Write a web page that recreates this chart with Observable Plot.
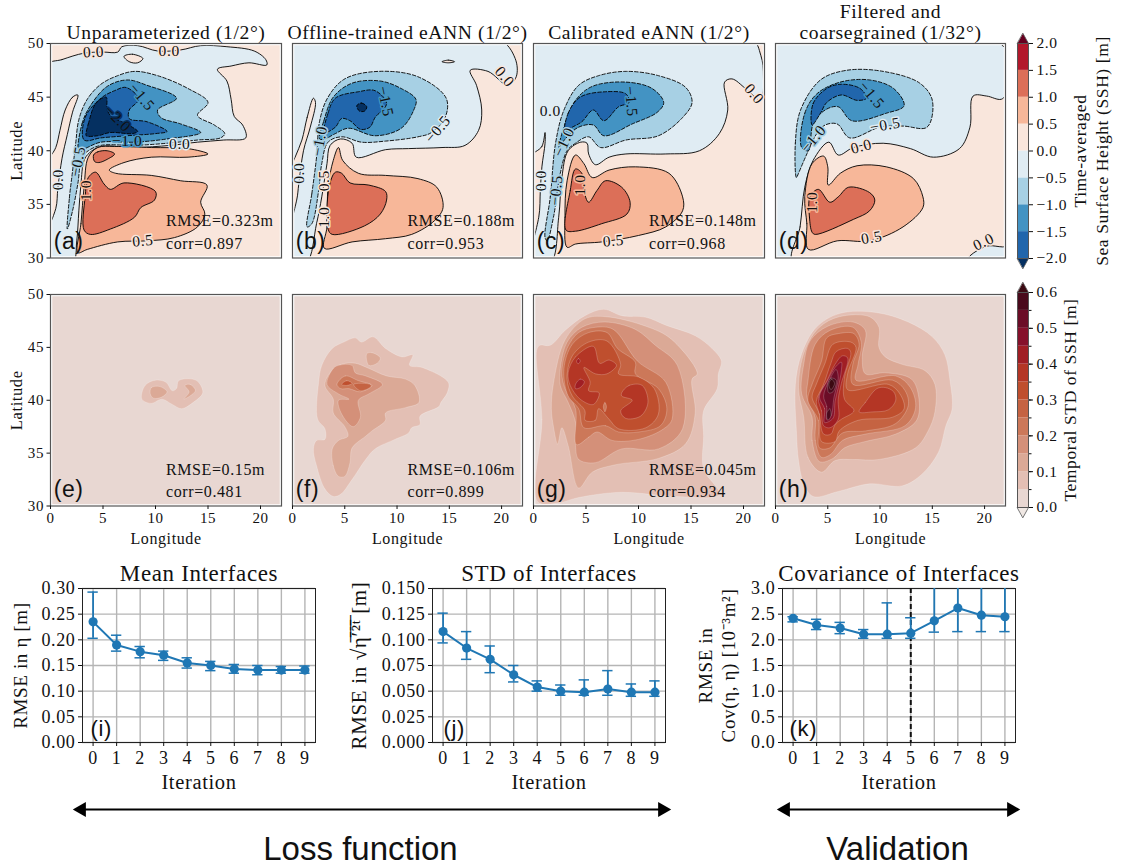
<!DOCTYPE html>
<html><head><meta charset="utf-8">
<script src="https://cdn.jsdelivr.net/npm/d3@7"></script>
<script src="https://cdn.jsdelivr.net/npm/@observablehq/plot@0.6"></script>
<style>html,body{margin:0;padding:0;background:#fff}#root{position:relative;width:1122px;height:867px;overflow:hidden}</style>
</head><body><div id="root"></div>
<script>
const SERIF = "'Liberation Serif', serif", SANS = "'Liberation Sans', sans-serif";
const BLUE = "#1f77b4";

// ---- colour levels
const sshBounds = [-2,-1.5,-1,-0.5,0,0.5,1,1.5,2];
const sshColors = ["#053061","#2166ac","#4393c3","#a7d0e4","#e0ecf3","#f9e6dc","#f7b799","#dc6f58","#b2182b","#67001f"];
const stdBounds = [0,.05,.1,.15,.2,.25,.3,.35,.4,.45,.5,.55,.6];
const stdColors = ["#f0e8e4","#e8d7d2","#e3bfb4","#dba996","#d49079","#cc7859","#c56342","#bf4f2e","#b43625","#a01e24","#86112b","#6b0d27","#4a0a1c","#3c0912"];

// ---- Panel (a) contours [lon, lat]
const a0 = [[-.5,47.9],[1.1,48.5],[3.2,49.1],[5,49.2],[6.4,49.2],[6.8,49.7],[8.3,49.8],[10.2,49.3],[12.4,49.4],[14.3,49.8],[16.8,49.7],[19.4,49.3],[20.5,48.5],[20.6,48],[18.9,48.2],[17.2,47.9],[15.9,47.6],[16.8,46.5],[17.2,44.8],[17.5,43.2],[18.3,42.4],[18.6,41.2],[16.5,41],[14,40.8],[11.4,40.5],[8,40.3],[4.8,40.4],[3.7,39.8],[3.2,39.1],[2.9,36.9],[2.7,34.4],[2.5,31.6],[2.1,29.5],[-.5,29.5]];
const aSliver = [[2.6,45.2],[2.1,45],[1.4,43.8],[.9,41.9],[.5,40.3],[-.5,38.5],[-.5,32.5],[.5,34.6],[.7,36.5],[1.1,39.3],[1.6,41.5],[2.1,43.6]];
const aHole = [[7,48.8],[7.8,49],[8.8,48.6],[8.3,48.2],[7.5,48.3]];
const aM05 = [[1.6,32.7],[1.8,35.6],[2.1,38.1],[2.4,40.7],[2.7,42.9],[3.5,44.8],[4.8,46.2],[6.4,47],[8,47.4],[10.2,47],[13.1,45.8],[15,44.5],[14,43.3],[15.6,42.4],[16.6,41.6],[16.2,41.2],[14,41],[11.1,40.7],[8,40.5],[4.8,40.5],[3.6,40],[3,39.4],[2.6,36.9],[2.1,34.4]];
const aM10 = [[2.7,39.9],[3,42.5],[3.8,44.2],[5.4,46],[7.3,46.6],[9.2,46.1],[12,44.9],[10.2,43.8],[10.5,43.1],[12.4,42.5],[14.3,41.7],[11.1,41.1],[8,40.8],[4.8,40.8],[3.5,40.3]];
const aM15 = [[3.2,41],[3.3,43.1],[4.8,44.9],[6.1,45.6],[7.2,45.9],[8.4,44.8],[7.5,43.8],[7.5,43],[9.2,42.7],[11.1,41.8],[10,41.6],[7.3,41.4],[4.8,41.2]];
const aM20 = [[3.4,41.7],[3.6,42.5],[4.3,44.4],[5.3,45],[5.4,43.8],[5.9,43.1],[6.8,42.7],[8.3,41.8],[7.8,41.6],[5.7,41.7],[4.5,41.4],[3.4,41.4]];
const aP05 = [[2.6,30.5],[2.9,33.2],[3.2,36.6],[3.6,39.4],[4.5,40.3],[6.1,40.4],[9.6,40.3],[13.1,40.2],[15,39.7],[13.1,39.4],[9.6,39.4],[7,38.9],[5.6,38.2],[6.2,37.9],[9.6,37.7],[12.4,37.2],[14.9,36.8],[14.3,35.2],[14.7,34.1],[14,32.9],[11.8,31.9],[9.2,31.6],[6.4,31.5],[3.5,30.8]];
const aP10a = [[4.1,39.6],[4.5,39.9],[5.4,40],[6.1,39.7],[5.4,39.2],[4.6,38.9],[4.2,39]];
const aP10b = [[3.2,32.6],[3.3,35.7],[3.6,37.5],[4.3,38],[5.1,36.9],[5.7,36.4],[7,37],[10,36.2],[9.9,35.4],[8.6,34.7],[8,33.8],[5.7,32.7],[3.8,32.2]];
const aLabels = [[4.1,49.2,"0.0",-3,.25],[11.3,49.3,"0.0",0,.25],[8.7,45,"−1.5",50,-1.25],[6.4,43,"−2.0",45,-2.25],[7.3,40.9,"−1.0",0,-1.25],[12.3,40.6,"0.0",0,-.25],[2.6,39,"−0.5",-80,-.75],[.7,37.3,"0.0",-90,-.25],[3.4,36.3,"1.0",-90,.75],[8.8,31.6,"0.5",-5,.25]];

// ---- Panel (b)
const b0 = [[-.5,50.5],[19.6,50.5],[21.3,48.6],[21.4,46.9],[20.6,46.1],[18.7,47.4],[17,47.5],[17.6,46.1],[18.1,43.8],[17.8,41.9],[16.5,40.5],[14.3,40.3],[11.1,40.2],[8.9,40.1],[6.1,39.4],[5.7,40.7],[4.6,41.1],[3.6,40.5],[3.3,38.8],[2.8,35.7],[2.3,33.2],[1.3,29.5],[-.5,29.5]];
const bSliver = [[2,44.9],[1.4,43.1],[.9,41],[.25,39.4],[-.5,37.5],[-.5,32.5],[.4,35.4],[.6,36.9],[1.05,40],[1.7,42.2],[2.2,44.5]];
const bSpeck = [[14.3,48.3],[14.9,48.45],[15.5,48.3],[14.9,48.2]];
const bM05 = [[1.4,32.9],[1.85,36],[2.3,39.4],[2.6,42.8],[3.4,45],[5,46.7],[8.2,47.4],[12,46.9],[14.7,44.9],[14.6,43.1],[13.3,41.7],[12,41.3],[8.9,40.9],[6.6,40.8],[4.7,41.3],[3.4,40.8],[2.8,38.8],[2.5,36.3],[1.85,33.2]];
const bM10 = [[2.6,41.1],[3,42.8],[3.9,45],[5.7,46.3],[8.4,46.5],[10.4,45.8],[11.8,44.8],[11.6,43.8],[10.4,42.1],[7.9,41.4],[5.35,42.1],[4.1,41.6],[3.1,41.1]];
const bM15 = [[3.05,41.7],[3.4,43.5],[4.1,44.9],[6.3,45.5],[7.9,45.6],[9,44.4],[7.9,43.1],[7.4,42.2],[6.5,42],[5.5,42.8],[4.7,43],[4.1,42.2]];
const bM20 = [[6.15,44.2],[6.6,44.45],[7.1,44.1],[6.9,43.7],[6.4,43.7]];
const bP05 = [[3.05,30.9],[3.3,32.9],[3.4,36.6],[3.9,39.1],[4.4,40.3],[4.8,39.1],[6.3,37.9],[8.9,37.7],[12,37.4],[13.8,36.6],[14.4,34.7],[13.6,33.5],[11.4,32.2],[8.9,31.8],[5.7,31.5]];
const bP10 = [[3.4,32.7],[3.5,36.6],[4.1,38],[4.7,37.9],[5.5,37],[7.3,36.8],[8.9,36.2],[9,35.4],[8.4,34.1],[6.9,33],[3.8,32.2]];
const bLabels = [[20.3,46.9,"0.0",50,.25],[8.9,44.6,"−1.5",78,-1.25],[13.9,42,"−0.5",-50,-.25],[2.6,40.9,"−1.0",-80,-.75],[.65,37.9,"0.0",-90,-.25],[3.05,37.2,"0.5",-90,.25],[3.05,33.8,"1.0",-90,.25]];

// ---- Panel (c)
const c0 = [[-.5,50.5],[20.7,50.5],[21.65,48.9],[21.9,46.9],[21.65,44.7],[20.2,45.8],[18.9,46.7],[18.2,46.4],[18.5,43.8],[17.7,41.6],[15.8,40],[12.6,39.7],[8.8,39.7],[7.2,39.4],[5.9,38.7],[5.25,39.7],[5.1,40.7],[4.5,40.8],[3.3,40],[2.7,37.5],[2.4,33.8],[1.6,29.5],[-.5,29.5]];
const cSliver = [[1.1,41.7],[.8,40.4],[-.5,39.2],[-.5,30.5],[.5,33.8],[.65,36.3],[.8,38.5],[1.1,40.7]];
const cM05 = [[1.1,31.9],[1.6,35.7],[2.1,40.7],[2.9,43.8],[4.3,46.1],[6.2,47],[8.8,47.4],[11.9,47],[14.5,45.9],[15.1,44.5],[14.2,43.1],[11.9,41.4],[8.8,41],[6.4,40.3],[5.25,41.3],[4,40.7],[3.2,40],[2.55,37.9],[1.9,33.8],[1.3,31.6]];
const cM10 = [[2.4,40.3],[3,42.5],[4,44.7],[5.6,46],[8.8,46.4],[11.3,45.8],[12.4,44.5],[11.8,43.6],[9.4,42.5],[6.7,41.4],[5.7,42.4],[4.3,42.2],[3.3,41.4],[2.7,40.7]];
const cM15 = [[3,41.8],[3.3,43.5],[4.45,45],[6.85,45.5],[8.8,45.3],[9.1,44.5],[8.1,44.1],[6.7,42.8],[5.7,43.8],[4.6,42.7],[3.7,42.2]];
const cP05 = [[3.2,31],[3,33.8],[3.2,37.2],[4,39.6],[4.8,38.8],[5.6,37.5],[7.2,38.2],[9.7,38.5],[12.9,37.9],[14.2,35.7],[14.2,34.4],[12.6,32.9],[10,32.1],[6.5,31.5],[4,31.3]];
const cP10 = [[3.1,32.6],[3.5,36.3],[4,38.3],[4.6,37.9],[4.8,36.3],[5.25,35.2],[6.05,36.3],[6.85,37.2],[8.4,36.6],[9.2,35.2],[8.9,34.1],[6.5,33.2],[4,32.5]];
const cLabels = [[1.6,43.7,"0.0",0,-.25],[21,45.3,"0.0",50,.25],[9.3,44.6,"−1.5",85,-1.25],[2.9,40.8,"−1.0",-65,-.75],[2.15,36.3,"−0.5",-85,-.75],[.7,37.2,"0.0",-90,-.25],[4.45,36.8,"1.0",-90,.75],[7.6,31.6,"0.5",-5,.25]];

// ---- Panel (d)
const dPink = [[1.7,29.5],[2.35,32.9],[2.8,36.6],[3.6,39.1],[5.1,40.8],[6,39.6],[7.45,40.3],[10.3,40.7],[12.9,40.2],[15.1,39.4],[17.6,40.2],[18.6,42.2],[18.9,45.1],[20.2,45.1],[21.6,44.8],[22.5,45.6],[22.5,31.3],[20.2,31.1],[18.6,30.2],[18.1,29.5]];
const dCorner = [[21.6,50.5],[21.7,49.8],[22.5,49.6],[22.5,50.5]];
const dM05 = [[2,37.5],[1.9,40.7],[2.4,43.8],[4.3,46.6],[6.8,47.5],[10.3,47.4],[13.8,46.3],[15,44.7],[14.5,42.2],[12.2,42.3],[10,42.2],[7.1,41.2],[5.9,42.5],[4.75,42.4],[3.95,41.6],[3,39.7],[2.2,37.9]];
const dM10 = [[2.5,40.3],[2.8,43.5],[3.95,45.3],[6.2,46.4],[9,46.6],[11.3,45.8],[12.3,44.2],[10.6,43.5],[7.3,42.8],[6,44.1],[4.75,43.8],[3.6,42.5],[3.15,40]];
const dM15 = [[3.5,42.4],[3.6,44.4],[4.9,45.8],[6.3,46.2],[8.1,45.8],[8.7,44.9],[7.8,44.7],[6.3,45.2],[4.9,44.5],[4.3,43.5]];
const dP05 = [[3.15,30.8],[3,33.2],[2.8,35.7],[3.5,38.8],[4.6,39.5],[5,38.5],[5.05,36.8],[6.2,37.9],[7.8,38.6],[10.6,38.5],[13.2,37.4],[14.1,35.7],[14.1,34.7],[12.2,32.9],[9,31.6],[5.9,31.6]];
const dP10 = [[3.5,32.4],[3.25,33.8],[3.3,35.7],[4.1,36.4],[5.2,35.2],[6,35.7],[7,36.6],[9,36.1],[9.5,35.4],[9,34.4],[7.45,33.6],[3.8,32.2]];
const dLabels = [[9.2,45.2,"−1.5",50,-1.25],[3.6,41.1,"−1.0",-50,-.75],[10.5,42.4,"−0.5",-10,-.25],[8.2,40.4,"0.0",-15,.25],[3.5,35.2,"1.0",-90,.75],[9.2,31.9,"0.5",-10,.25],[19.9,31.5,"0.0",-25,.25]];

// ---- Panel (e)
const e1 = [[8.7,40.1],[9,41.4],[10,41.9],[11,41.7],[11.6,40.9],[12,41.1],[12.2,41.85],[13.5,42],[14.1,41.7],[14.5,40.7],[13.6,39.8],[12.5,39.2],[11.6,39.6],[10.6,40.1],[9.6,39.7]];
const e2a = [[9.5,40.6],[9.6,41.2],[10.4,41.3],[11.1,40.8],[10.6,40.3],[9.8,40.2]];
const e2b = [[12.8,41.4],[13.3,41.5],[13.8,40.9],[12.7,40.1],[13.2,40.8]];

// ---- Panel (f)
const f1 = [[3.9,30.9],[3.1,31.6],[2.3,33.8],[2,35.4],[2.3,36.2],[3.1,36.3],[3.1,37.3],[2.4,38.2],[2.5,41.7],[2.8,43.3],[3.8,44.9],[4.9,45.5],[6,45.9],[6.6,45.5],[7.7,46],[8.9,44.9],[10.5,44.1],[11.5,44.3],[11.2,43.3],[12.4,43.1],[14.9,41.7],[14.8,40.7],[14.2,39.8],[14,39.4],[12.2,38.5],[12.2,37.7],[11.4,37.4],[11.1,36.9],[9.8,36.3],[7.9,35.4],[7,34.4],[5.7,32.5],[4.6,31.1]];
const f2 = [[4.4,32.8],[3.9,33.8],[3.8,35.4],[4.4,36.2],[5.3,36.6],[5,37.5],[3.9,38.8],[3.9,40.1],[3.1,41.4],[3.6,42.6],[4.7,43.4],[6,43.5],[7.1,43.1],[9,42.3],[10.8,42],[11.7,41.4],[12.1,39.8],[10.8,39.3],[8.9,38.8],[8.9,38.1],[7.6,37.1],[7,36.6],[5.7,35.5],[5.5,34.1],[5,32.8]];
const f2b = [[7.1,44.4],[7.6,44.5],[8.4,44],[8.1,43.5],[7.3,43.3]];
const f3 = [[3.3,41.5],[3.9,43],[4.4,43.3],[5.7,43.3],[6,42.6],[7,42.3],[8.6,41.5],[7.3,40.6],[6.3,40],[6.5,38.4],[5.8,37.5],[4.7,38.7],[4.4,40],[5.4,40.1],[4.4,40.6]];
const f4 = [[4.25,41.5],[5.05,42.3],[6.3,41.85],[7.6,41.4],[6.5,40.8],[5.4,41.1],[4.6,41.1]];
const f5 = [[5.85,41.5],[7.45,41.5],[7.5,41.3],[6.5,40.9]];
const f6 = [[4.7,41.5],[5.2,41.85],[5.7,41.6],[5.2,41.4]];

// ---- Panel (g)
const g1 = [[.4,30.4],[.8,38.2],[.3,44.7],[.6,45.2],[1.6,45.2],[3,46.6],[4.9,48],[6.7,48.6],[8.4,48],[10.7,47.85],[12.6,47.1],[15.4,46.1],[17,44.9],[17.9,43.7],[17.6,42.5],[17.5,41.1],[16.2,39],[16.2,36.6],[16.2,33.5],[17.7,31.1],[13.5,30.9],[8.4,31.3],[4.3,30.8],[2.4,30.3]];
const g2 = [[1.9,37.5],[2.3,35.8],[2.7,37.4],[3.3,35.7],[4.3,31.7],[5.6,33.2],[7.8,33.9],[11.9,34.5],[14.5,35.9],[15.4,38.8],[15.1,42],[15.6,42.5],[13.1,45.8],[10.7,47],[6.9,47.9],[4.9,47.7],[3,45.7],[1.9,41.6],[1.7,39.2]];
const g3 = [[4,35.7],[4.3,34.4],[5.9,34.1],[8.4,35.4],[11.9,35.4],[14.2,37.3],[13.7,43.3],[11.6,45.2],[9.7,46.7],[6.8,47.4],[4.6,46.9],[3.2,45.5],[2.55,43],[2.55,41.4],[3.3,39.8],[4,37.9]];
const g4 = [[4.1,35.8],[5.25,36.5],[6.05,37],[7.5,36.2],[10,36.3],[12.4,37.3],[13.2,38.2],[12.6,41.7],[9.9,43.7],[7.6,46.7],[5.9,46.9],[4.3,46.4],[3.2,44.9],[2.7,42.6],[3,41.1],[4,39.2]];
const g5 = [[4.8,37.4],[6.85,37.6],[8.1,37],[10,37],[12.1,37.6],[12.7,39.2],[11.9,41.1],[9.7,42.5],[9.7,43.6],[8,44.9],[7,46.4],[5.25,46.4],[3.7,45.3],[2.9,43],[3.3,40.4],[4.3,39.2]];
const g6 = [[4.9,38.1],[5.9,38.1],[6.2,39.2],[7.2,38.2],[8.1,37.3],[10.7,37.4],[11.9,38.7],[11.5,41.1],[10,42.2],[8.1,42.5],[8.3,43.4],[7,45.6],[5.25,45.5],[3.7,44.2],[3.2,42],[3.7,40.4],[4.9,39]];
const g7a = [[3.3,42.6],[4,44.1],[5.7,45.1],[6.3,43.5],[7.2,43.8],[7.9,43.3],[7,42.5],[5.9,42.5],[4.8,43.1],[5.4,41.7],[5.25,40.9],[6.25,40.7],[5.7,39.6],[4.45,40.1],[3.5,41.4]];
const g7b = [[8.4,40.7],[9.1,41.4],[10.35,41.4],[10.9,39.8],[10.2,38.5],[8.75,38.3],[8.3,39],[9.4,40],[8.4,40.4]];
const g8a = [[4,41.5],[4.45,42],[4.85,41.75],[4.45,41.2],[4,41.1]];
const g8b = [[4.1,43.7],[4.3,43.95],[4.45,43.7],[4.25,43.45]];
const g6hole = [[6.65,39.4],[6.8,39.8],[6.95,39.4],[6.8,38.9]];

// ---- Panel (h)
const h1 = [[3.6,30.9],[2.7,32.1],[2.2,34.3],[2,37.1],[1.9,41.5],[2.5,44.4],[3.9,46.9],[6.1,48.2],[9.6,48.3],[12.7,47.4],[15,46],[16.2,44.3],[16.7,41.8],[16.9,39.2],[16.3,37.6],[15.6,35.1],[14,33],[12.1,31.9],[9,32.1],[6.1,31.4]];
const h2 = [[4.4,33.2],[3.1,34.6],[2.7,38.4],[2.2,41.2],[2.8,44.7],[4.2,46.9],[6.1,47.9],[9,47.9],[9.9,46.9],[9.9,45],[10.5,44.1],[12.1,43.4],[14.3,42.8],[15.25,41.5],[15.25,38.9],[14.6,37.1],[13.4,35.5],[9.9,34.4],[7.4,34.4],[5.7,34.3]];
const h3 = [[4.2,34.2],[3.5,36.2],[3.5,38.4],[2.5,40.6],[2.7,43.4],[3.3,45.6],[5,47],[7.4,47.4],[8.6,46.6],[8.3,44.1],[8.6,42.5],[10.5,42.6],[13,42],[13.7,40.3],[13.5,38.1],[11.5,36.8],[8.6,36.1],[6.6,35.5],[5.5,34.5]];
const h4 = [[4.4,34.6],[3.8,36.2],[3.8,38.4],[3,40.3],[3.1,41.8],[3.8,45.3],[5.2,46.6],[7.4,46.9],[8.2,45.5],[7.9,43.4],[7.7,41.9],[11.5,42.3],[12.9,41.2],[13.4,39.3],[12.4,37.6],[8.6,36.8],[6.4,36.2],[5.3,34.9]];
const h5 = [[4.2,35.5],[4.1,38.1],[3.1,40],[3.5,41.5],[4.4,43.7],[4.9,45.9],[6,46.3],[7.5,46.3],[8,45.3],[7.4,43.4],[7.4,41.5],[11.2,41.9],[12.4,40.9],[12.7,39.5],[11.5,37.8],[8.6,37.1],[6.4,36.9],[5.2,35.5]];
const h6 = [[4.4,36.1],[4.2,38.7],[3.5,40.3],[3.9,41.5],[4.7,43.4],[5.5,45.3],[7.2,45.5],[7.7,45],[6.9,42.5],[6.9,41],[10.8,41.5],[11.9,40.6],[12.3,39.2],[11.2,38.4],[7.9,38.1],[6.1,37.1],[5.7,36.1]];
const h7a = [[4.6,36.8],[4.2,38.7],[3.9,39.9],[4.6,41.5],[5.3,43.5],[5.8,44.6],[6.9,44.9],[7.2,44.5],[6.6,42.2],[6.6,40.1],[7.5,39],[6.3,38.2],[5.7,37.7],[5.3,36.8]];
const h7b = [[8,38.9],[8.6,39.8],[9.7,41.1],[10.5,41.2],[11.3,40.8],[11.5,40],[10.8,39.1],[9.3,38.9]];
const h8 = [[4.6,37.6],[4.4,39],[4.1,40.2],[4.9,41.8],[5.7,43.4],[6.4,44.2],[6.9,44],[6.3,41.6],[6,40.1],[6,38.2],[5.2,37.4]];
const h9 = [[4.7,37.9],[4.7,39.2],[4.2,40.3],[5,41.9],[5.7,43.1],[6.3,43.6],[6.3,42.8],[6,41.2],[5.7,39.9],[5.5,38.3]];
const h10 = [[4.9,38.2],[4.9,39.4],[4.6,40.4],[5.2,42],[5.8,42.9],[6,42.1],[5.6,40.3],[5.3,38.5]];
const h11a = [[5,41.5],[5.3,42.1],[5.8,41.9],[5.5,40.8],[5.1,40.7]];
const h11b = [[4.9,38.8],[5.2,39.2],[5.3,38.5],[5,38.1]];
const h12 = [[5.1,41.5],[5.35,42],[5.65,41.6],[5.3,41]];

// ---- error-bar series
const iterations = [0,1,2,3,4,5,6,7,8,9];
const iMean = [.235,.19,.177,.17,.155,.15,.143,.141,.141,.141];
const iLo = [.203,.178,.165,.16,.145,.14,.135,.132,.135,.135];
const iHi = [.293,.209,.187,.178,.165,.158,.152,.15,.148,.149];
const jMean = [.108,.092,.081,.066,.054,.05,.049,.052,.049,.049];
const jLo = [.097,.081,.068,.059,.05,.046,.046,.046,.045,.045];
const jHi = [.126,.108,.094,.075,.06,.056,.061,.07,.057,.06];
const kMean = [2.42,2.29,2.23,2.11,2.11,2.13,2.37,2.62,2.48,2.45];
const kLo = [2.35,2.2,2.12,2.03,2.03,2.03,2.15,2.16,2.16,2.16];
const kHi = [2.45,2.4,2.34,2.2,2.72,2.43,3.4,3.4,3.4,3.4];

const root = document.getElementById("root");
function place(el,left,top){el.style.position="absolute";el.style.left=left+"px";el.style.top=top+"px";el.style.maxWidth="none";el.style.background="transparent";el.style.height=el.getAttribute("height")+"px";root.appendChild(el);}
const rowsOf = list => list.flatMap(([level,pts],i)=>pts.map(([lon,lat])=>({lon,lat,level,id:i})));
const lineOpts = {x:"lon",y:"lat",z:"id",fill:"level",curve:"catmull-rom-closed",clip:true};
const SP = ".04em";

// ---- map panels
function mapPanel(p){
  const ML=50,MR=6,MT=p.mt,MB=p.mb,W=p.w,H=p.h;
  const marks=[Plot.frame({fill:p.base,stroke:null})];
  for(const g of p.groups) marks.push(Plot.line(rowsOf(g.polys),{...lineOpts,stroke:g.stroke,strokeOpacity:g.op??1,strokeWidth:g.sw??.9,strokeDasharray:g.dash}));
  marks.push(Plot.frame({stroke:"#fff",strokeWidth:3.5}));
  marks.push(Plot.frame({stroke:"#555",strokeWidth:1.2}));
  if(p.labels) marks.push(Plot.text(p.labels,{x:d=>d[0],y:d=>d[1],text:d=>d[2],rotate:d=>d[3],stroke:d=>d[4],strokeWidth:3,fill:"#111",fontSize:15.5}));
  if(p.stats) marks.push(Plot.text(p.stats,{x:()=>11,y:(d,i)=>i?31.35:33.45,text:d=>d,textAnchor:"start",fontSize:16,fill:"#111"}));
  marks.push(Plot.text([p.letter],{x:()=>.3,y:()=>31.55,text:d=>d,textAnchor:"start",fontFamily:SANS,fontSize:23,fill:"#111"}));
  if(p.yaxis){
    marks.push(Plot.axisY({ticks:[30,35,40,45,50],tickSize:3.5,tickPadding:3,label:null,fontSize:15}));
    marks.push(Plot.text(["Latitude"],{frameAnchor:"left",dx:-34,rotate:-90,textAnchor:"middle",lineAnchor:"middle",fontSize:16.5}));
  }
  if(p.xaxis){
    marks.push(Plot.axisX({ticks:[0,5,10,15,20],tickSize:3.5,tickPadding:3,label:null,fontSize:15}));
    marks.push(Plot.text(["Longitude"],{frameAnchor:"bottom",dy:33,textAnchor:"middle",lineAnchor:"middle",fontSize:16}));
  }
  if(p.title) marks.push(Plot.text([p.title],{frameAnchor:"top",dy:-5,lineAnchor:"bottom",lineHeight:1.05,textAnchor:"middle",fontSize:19.6,fill:"#111"}));
  const el=Plot.plot({width:W+ML+MR,height:H+MT+MB,marginLeft:ML,marginRight:MR,marginTop:MT,marginBottom:MB,
    x:{domain:[0,22],axis:null},y:{domain:[30,50],axis:null},
    color:{type:"threshold",domain:p.bounds,range:p.colors},
    style:{fontFamily:SERIF,fontSize:"15px",letterSpacing:SP,color:"#111",overflow:"visible"},marks});
  place(el,p.x-ML,p.y-MT);
}
const sshTop = {bounds:sshBounds,colors:sshColors,w:231,h:214.5,mt:43,mb:4,y:43,yaxis:false};
const z=.25,mh=-.25,m1=-.75,m2=-1.25,m3=-1.75,m4=-2.25,p1=.75,p2=1.25;
mapPanel({...sshTop,x:50,base:"#f9e6dc",letter:"(a)",title:"Unparameterized (1/2°)",yaxis:true,stats:["RMSE=0.323m","corr=0.897"],labels:aLabels,
  groups:[{stroke:"#000",polys:[[mh,a0],[z,aSliver],[z,aHole]]},
          {stroke:"#000",dash:"3.5,2",polys:[[m1,aM05],[m2,aM10],[m3,aM15],[m4,aM20]]},
          {stroke:"#000",polys:[[p1,aP05],[p2,aP10a],[p2,aP10b]]}]});
mapPanel({...sshTop,x:292,w:230,base:"#f9e6dc",letter:"(b)",title:"Offline-trained eANN (1/2°)",stats:["RMSE=0.188m","corr=0.953"],labels:bLabels,
  groups:[{stroke:"#000",polys:[[mh,b0],[z,bSliver],[z,bSpeck]]},
          {stroke:"#000",dash:"3.5,2",polys:[[m1,bM05],[m2,bM10],[m3,bM15],[m4,bM20]]},
          {stroke:"#000",polys:[[p1,bP05],[p2,bP10]]}]});
mapPanel({...sshTop,x:533,base:"#f9e6dc",letter:"(c)",title:"Calibrated eANN (1/2°)",stats:["RMSE=0.148m","corr=0.968"],labels:cLabels,
  groups:[{stroke:"#000",polys:[[mh,c0],[z,cSliver]]},
          {stroke:"#000",dash:"3.5,2",polys:[[m1,cM05],[m2,cM10],[m3,cM15]]},
          {stroke:"#000",polys:[[p1,cP05],[p2,cP10]]}]});
mapPanel({...sshTop,x:775,w:230,base:"#e0ecf3",letter:"(d)",title:"Filtered and\ncoarsegrained (1/32°)",labels:dLabels,
  groups:[{stroke:"#000",polys:[[z,dPink],[z,dCorner]]},
          {stroke:"#000",dash:"3.5,2",polys:[[m1,dM05],[m2,dM10],[m3,dM15]]},
          {stroke:"#000",polys:[[p1,dP05],[p2,dP10]]}]});

const stdRow = {bounds:stdBounds,colors:stdColors,w:231,h:211.5,mt:8,mb:46,y:294,xaxis:true,base:"#e8d7d2"};
const L=n=>.025+n*.05;
const pale = polys=>[{stroke:"#fff",op:.35,sw:.6,polys}];
mapPanel({...stdRow,x:50,yaxis:true,letter:"(e)",stats:["RMSE=0.15m","corr=0.481"],groups:pale([[L(1),e1],[L(2),e2a],[L(2),e2b]])});
mapPanel({...stdRow,x:292,w:230,letter:"(f)",stats:["RMSE=0.106m","corr=0.899"],groups:pale([[L(1),f1],[L(2),f2],[L(2),f2b],[L(3),f3],[L(4),f4],[L(5),f5],[L(6),f6]])});
mapPanel({...stdRow,x:533,letter:"(g)",stats:["RMSE=0.045m","corr=0.934"],groups:pale([[L(1),g1],[L(2),g2],[L(3),g3],[L(4),g4],[L(5),g5],[L(6),g6],[L(7),g7a],[L(7),g7b],[L(8),g8a],[L(8),g8b],[L(4),g6hole]])});
mapPanel({...stdRow,x:775,w:230,letter:"(h)",groups:pale([[L(1),h1],[L(2),h2],[L(3),h3],[L(4),h4],[L(5),h5],[L(6),h6],[L(7),h7a],[L(7),h7b],[L(8),h8],[L(9),h9],[L(10),h10],[L(11),h11a],[L(11),h11b],[L(12),h12]])});

// ---- colour bars
function colorbar({x,y,h,bounds,colors,major,minor,fmt,lab,tri}){
  const lo=bounds[0],hi=bounds[bounds.length-1],dd=(hi-lo)*tri/h;
  const bins=d3.pairs(bounds).map(([a,b])=>({a,b}));
  const mt=tri+2,mb=tri+2,ML=2,W=11,MR=94;
  const marks=[
    Plot.line([[0,hi],[1,hi],[.5,hi+dd]],{x:d=>d[0],y:d=>d[1],fill:colors[colors.length-1],stroke:"#555",strokeWidth:.8,curve:"linear-closed"}),
    Plot.line([[0,lo],[1,lo],[.5,lo-dd]],{x:d=>d[0],y:d=>d[1],fill:colors[0],stroke:"#555",strokeWidth:.8,curve:"linear-closed"}),
    Plot.rect(bins,{x1:()=>0,x2:()=>1,y1:"a",y2:"b",fill:d=>(d.a+d.b)/2}),
    Plot.frame({stroke:"#555",strokeWidth:1}),
    Plot.axisY({anchor:"right",ticks:major,tickFormat:d3.format(fmt),tickSize:4,tickPadding:4,label:null,fontSize:15.5})
  ];
  if(minor) marks.push(Plot.axisY({anchor:"right",ticks:minor,tickFormat:()=>"",tickSize:2.5,label:null}));
  lab.forEach(([t,dx])=>marks.push(Plot.text([t],{frameAnchor:"right",dx,rotate:-90,textAnchor:"middle",lineAnchor:"middle",fontSize:17.5,fill:"#111"})));
  const el=Plot.plot({width:ML+W+MR,height:h+mt+mb,marginLeft:ML,marginRight:MR,marginTop:mt,marginBottom:mb,
    x:{domain:[0,1],axis:null},y:{domain:[lo,hi],axis:null},color:{type:"threshold",domain:bounds,range:colors},
    style:{fontFamily:SERIF,fontSize:"15px",letterSpacing:SP,color:"#111",overflow:"visible"},marks});
  place(el,x-ML,y-mt);
}
colorbar({x:1017,y:43,h:215,bounds:sshBounds,colors:sshColors,major:sshBounds,fmt:".1f",tri:10,lab:[["Time-averaged",52],["Sea Surface Height (SSH) [m]",74]]});
colorbar({x:1017,y:292,h:215,bounds:stdBounds,colors:stdColors,major:[0,.1,.2,.3,.4,.5,.6],minor:stdBounds,fmt:".1f",tri:10,lab:[["Temporal STD of SSH [m]",42]]});

// ---- error-bar panels
function errPanel({x,title,mean,lo,hi,yMax,yTicks,fmt,ylab,letter,letterX,vline}){
  const data=iterations.map((it,i)=>({it,m:mean[i],lo:lo[i],hi:hi[i]}));
  const ML=78,MR=12,MT=30,MB=52,W=233,H=154;
  const marks=[
    Plot.gridX({ticks:iterations,stroke:"#b5b5b5",strokeOpacity:1,strokeWidth:1.4}),
    Plot.gridY({ticks:yTicks,stroke:"#b5b5b5",strokeOpacity:1,strokeWidth:1.4}),
    Plot.frame({stroke:"#222",strokeWidth:1}),
    Plot.axisX({ticks:iterations,tickSize:4,tickPadding:5,label:null,fontSize:18}),
    Plot.axisY({ticks:yTicks,tickFormat:d3.format(fmt),tickSize:4,tickPadding:3,label:null,fontSize:18}),
  ];
  if(vline!=null) marks.push(Plot.ruleX([vline],{stroke:"#111",strokeWidth:2,strokeDasharray:"5,3"}));
  marks.push(
    Plot.ruleX(data,{x:"it",y1:"lo",y2:"hi",stroke:BLUE,strokeWidth:1.8,clip:true}),
    Plot.ruleY(data,{y:"lo",x1:d=>d.it-.22,x2:d=>d.it+.22,stroke:BLUE,strokeWidth:1.5,clip:true}),
    Plot.ruleY(data,{y:"hi",x1:d=>d.it-.22,x2:d=>d.it+.22,stroke:BLUE,strokeWidth:1.5,clip:true}),
    Plot.line(data,{x:"it",y:"m",stroke:BLUE,strokeWidth:2}),
    Plot.dot(data,{x:"it",y:"m",fill:BLUE,r:4.6}),
    Plot.text([letter],{x:()=>letterX,y:()=>yMax*.09,text:d=>d,textAnchor:"start",fontFamily:SANS,fontSize:22,fill:"#111"}),
    Plot.text([title],{frameAnchor:"top",dy:-15,textAnchor:"middle",lineAnchor:"middle",fontSize:23,fill:"#111"}),
    Plot.text(["Iteration"],{frameAnchor:"bottom",dy:40,textAnchor:"middle",lineAnchor:"middle",fontSize:20.5,fill:"#111"}));
  ylab.forEach(([t,dx,fs])=>marks.push(Plot.text([t],{frameAnchor:"left",dx,rotate:-90,textAnchor:"middle",lineAnchor:"middle",fontSize:fs,fill:"#111"})));
  const el=Plot.plot({width:W+ML+MR,height:H+MT+MB,marginLeft:ML,marginRight:MR,marginTop:MT,marginBottom:MB,
    x:{domain:[-.45,9.45],axis:null},y:{domain:[0,yMax],axis:null},
    style:{fontFamily:SERIF,fontSize:"16px",letterSpacing:SP,color:"#111",overflow:"visible"},marks});
  place(el,x-ML,588-MT);
}
errPanel({x:82,title:"Mean Interfaces",mean:iMean,lo:iLo,hi:iHi,yMax:.3,yTicks:[0,.05,.1,.15,.2,.25,.3],fmt:".2f",letter:"(i)",letterX:-.11,ylab:[["RMSE in η [m]",-62,19]]});
errPanel({x:432,title:"STD of Interfaces",mean:jMean,lo:jLo,hi:jHi,yMax:.15,yTicks:[0,.025,.05,.075,.1,.125,.15],fmt:".3f",letter:"(j)",letterX:.02,ylab:[["RMSE in √η̅′̅²̅ᵗ̅ [m]",-73,21]]});
errPanel({x:782,title:"Covariance of Interfaces",mean:kMean,lo:kLo,hi:kHi,yMax:3,yTicks:[0,.5,1,1.5,2,2.5,3],fmt:".1f",letter:"(k)",letterX:-.15,vline:5,ylab:[["RMSE in",-77,19],["Cov(η, η) [10⁻³m²]",-54,19]]});

// ---- annotation band
const arrowLoss=[73,670], arrowVal=[777,1019], arrowY=809;
const spans=[arrowLoss,arrowVal];
const caps=["Loss function","Validation"], capX=[360,897];
const notes=Plot.plot({width:1122,height:60,margin:0,x:{domain:[0,1122],axis:null},y:{domain:[779,839],reverse:true,axis:null},
  style:{fontFamily:SANS,background:"transparent"},
  marks:[
    Plot.link(spans,{x1:d=>d[0]+8,x2:d=>d[1]-8,y1:()=>arrowY,y2:()=>arrowY,stroke:"#000",strokeWidth:2.2}),
    Plot.dot(spans,{x:d=>d[0]+8,y:()=>arrowY,symbol:"triangle2",rotate:()=>-90,r:7.2,fill:"#000"}),
    Plot.dot(spans,{x:d=>d[1]-8,y:()=>arrowY,symbol:"triangle2",rotate:()=>90,r:7.2,fill:"#000"})
  ]});
place(notes,0,779);
const capsPlot=Plot.plot({width:1122,height:40,margin:0,x:{domain:[0,1122],axis:null},y:{domain:[0,1],axis:null},
  style:{fontFamily:SANS,background:"transparent"},
  marks:[Plot.text(caps,{x:(d,i)=>capX[i],y:()=>.5,text:d=>d,fontSize:33,fill:"#111",fontFamily:SANS})]});
place(capsPlot,0,829);
</script></body></html>
